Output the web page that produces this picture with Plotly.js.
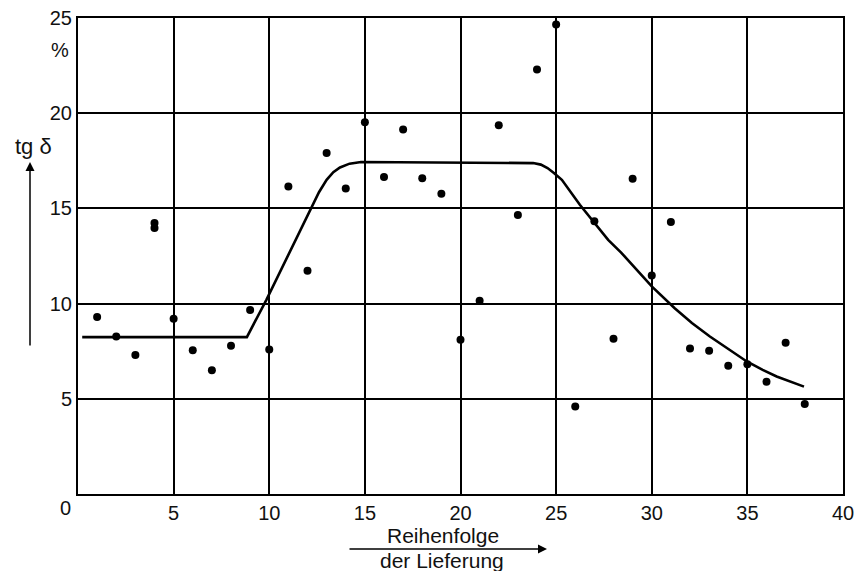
<!DOCTYPE html>
<html>
<head>
<meta charset="utf-8">
<script src="https://cdn.plot.ly/plotly-3.0.1.min.js"></script>
<style>html,body{margin:0;padding:0;background:#fff;}#chart{width:864px;height:571px;}</style>
</head>
<body>
<div id="chart"></div>
<script>
// Measured points: delivery number and tg delta (%)
var deliveryNo = [1, 2, 3, 4, 4, 5, 6, 7, 8, 9, 10, 11, 12, 13, 14, 15, 16, 17, 18, 19, 20,
                  21, 22, 23, 24, 25, 26, 27, 28, 29, 30, 31, 32, 33, 34, 35, 36, 37, 38];
var tgDelta = [9.3, 8.27, 7.3, 14.23, 13.97, 9.2, 7.55, 6.5, 7.78, 9.67, 7.59, 16.15, 11.72, 17.91, 16.04, 19.52, 16.65, 19.14, 16.58, 15.77, 8.1,
               10.15, 19.37, 14.65, 22.29, 24.66, 4.59, 14.32, 8.15, 16.56, 11.48, 14.28, 7.64, 7.52, 6.73, 6.82, 5.89, 7.95, 4.73];

// Trend curve
var curveX = [0.22, 8.83, 9.85, 11.16, 12.0, 12.6, 13.0, 13.35, 13.7, 14.2, 14.8, 20.0, 23.8, 24.2, 24.55, 24.9, 25.3, 26.24, 26.94, 27.72, 28.4, 29.2, 30.0, 31.2, 32.1, 33.04, 34.0, 34.97, 35.8, 36.53, 37.96];
var curveY = [8.24, 8.24, 10.2, 12.92, 14.6, 15.85, 16.5, 16.9, 17.15, 17.35, 17.44, 17.42, 17.38, 17.3, 17.12, 16.85, 16.5, 15.19, 14.3, 13.35, 12.68, 11.8, 10.9, 9.76, 8.98, 8.27, 7.6, 6.96, 6.52, 6.17, 5.64];

var xTicks = [5, 10, 15, 20, 25, 30, 35, 40];
var yTicks = [5, 10, 15, 20, 25];

var fontFam = 'Liberation Sans, Arial, Helvetica, sans-serif';

var traces = [
  {x: curveX, y: curveY, type: 'scatter', mode: 'lines',
   line: {color: '#000', width: 2.6, shape: 'linear'}, hoverinfo: 'skip'},
  {x: deliveryNo, y: tgDelta, type: 'scatter', mode: 'markers',
   marker: {color: '#000', size: 8, symbol: 'circle'}}
];

var W = 765, H = 476, L = 78, B = 494;
function px(x){ return (x - L) / W; }
function py(y){ return (B - y) / H; }

var layout = {
  width: 864, height: 571,
  margin: {l: 78, r: 21, t: 18, b: 77},
  paper_bgcolor: '#fff', plot_bgcolor: '#fff',
  showlegend: false,
  font: {family: fontFam, size: 20, color: '#000'},
  xaxis: {range: [0, 40], tickvals: xTicks, ticktext: xTicks.map(String),
          showgrid: true, gridcolor: '#000', gridwidth: 2,
          showline: true, linecolor: '#000', linewidth: 2, mirror: true,
          zeroline: false, ticks: '', fixedrange: true,
          tickfont: {family: fontFam, size: 20, color: '#111'}},
  yaxis: {range: [0, 25], tickvals: yTicks, ticktext: yTicks.map(String),
          showgrid: true, gridcolor: '#000', gridwidth: 2,
          showline: true, linecolor: '#000', linewidth: 2, mirror: true,
          zeroline: false, ticks: '', fixedrange: true,
          tickfont: {family: fontFam, size: 20, color: '#111'}},
  annotations: [
    {xref: 'paper', yref: 'paper', x: px(65), y: py(508), text: '0', showarrow: false,
     xanchor: 'center', yanchor: 'middle', font: {size: 20, color: '#111'}},
    {xref: 'paper', yref: 'paper', x: px(60), y: py(50), text: '%', showarrow: false,
     xanchor: 'center', yanchor: 'middle', font: {size: 20, color: '#111'}},
    {xref: 'paper', yref: 'paper', x: px(33), y: py(146), text: 'tg δ', showarrow: false,
     xanchor: 'center', yanchor: 'middle', font: {size: 22, color: '#111'}},
    {xref: 'paper', yref: 'paper', x: px(30), y: py(162), text: '', showarrow: true,
     axref: 'pixel', ayref: 'pixel', ax: 0, ay: 185,
     arrowhead: 2, arrowsize: 1.2, arrowwidth: 1.5, arrowcolor: '#000'},
    {xref: 'paper', yref: 'paper', x: px(442.5), y: py(535), text: 'Reihenfolge', showarrow: false,
     xanchor: 'center', yanchor: 'middle', font: {size: 21, color: '#111'}},
    {xref: 'paper', yref: 'paper', x: px(547), y: py(549), text: '', showarrow: true,
     axref: 'pixel', ayref: 'pixel', ax: -199, ay: 0,
     arrowhead: 2, arrowsize: 1.2, arrowwidth: 1.5, arrowcolor: '#000'},
    {xref: 'paper', yref: 'paper', x: px(442), y: py(560), text: 'der Lieferung', showarrow: false,
     xanchor: 'center', yanchor: 'middle', font: {size: 21, color: '#111'}}
  ]
};

Plotly.newPlot('chart', traces, layout, {displayModeBar: false, staticPlot: true});
</script>
</body>
</html>
